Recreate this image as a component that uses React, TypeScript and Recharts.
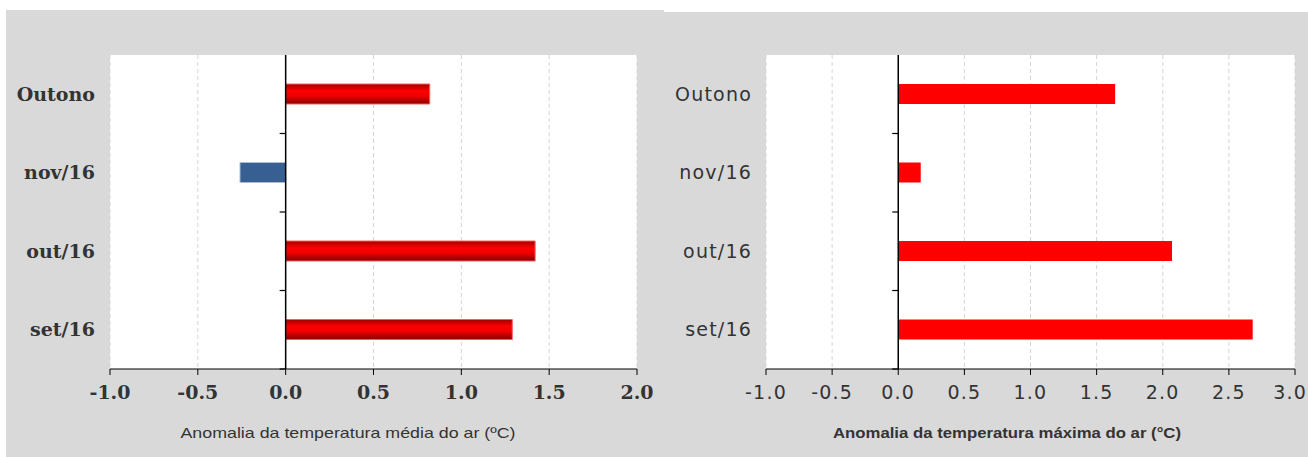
import React from 'react';
import {
  BarChart, Bar, XAxis, YAxis, CartesianGrid, ReferenceLine, Cell,
} from 'recharts';

// periods, top to bottom
const periods = ['Outono', 'nov/16', 'out/16', 'set/16'];
const mediaValues = [0.82, -0.26, 1.42, 1.29];
const maximaValues = [1.64, 0.17, 2.07, 2.68];
const mediaTicks = [-1, -0.5, 0, 0.5, 1, 1.5, 2];
const maximaTicks = [-1, -0.5, 0, 0.5, 1, 1.5, 2, 2.5, 3];
const mediaTitle = 'Anomalia da temperatura  média do ar (ºC)';
const maximaTitle = 'Anomalia da temperatura  máxima do ar (°C)';

const mediaData = periods.map((p, i) => ({ period: p, value: mediaValues[i] }));
const maximaData = periods.map((p, i) => ({ period: p, value: maximaValues[i] }));

const GRAY = '#d9d9d9';

// zero line with short ticks pointing left at the category boundaries
const ZeroLine = (n: number) => (p: any) => {
  const { x1, y1, y2 } = p;
  const step = (y2 - y1) / n;
  return (
    <g>
      <line x1={x1} y1={y1} x2={x1} y2={y2} stroke="#000" strokeWidth={1.5} />
      {Array.from({ length: n }, (_, i) => (
        <line key={i} x1={x1 - 6} x2={x1} y1={y1 + i * step} y2={y1 + i * step} stroke="#000" strokeWidth={1.2} />
      ))}
    </g>
  );
};

const titleLabel = (text: string, cx: number, len: number, weight: any) => (props: any) => {
  const vb = props.viewBox || {};
  return (
    <text
      x={cx}
      y={vb.y + 69}
      textAnchor="middle"
      fontFamily="'Liberation Sans Narrow', 'Liberation Sans', sans-serif"
      fontSize={15}
      fontWeight={weight}
      fill="#333"
      textLength={len}
      lengthAdjust="spacingAndGlyphs"
    >
      {text}
    </text>
  );
};

// right-axis tick; the last label is kept inside the panel
const MaximaTick = (props: any) => {
  const { x, y, payload } = props;
  const atEdge = x > 620;
  return (
    <text
      x={atEdge ? 643 : x}
      y={y}
      dy="0.71em"
      textAnchor={atEdge ? 'end' : 'middle'}
      fontFamily="DejaVu Sans"
      fontSize={19}
      letterSpacing={1.2}
      fill="#333"
    >
      {Number(payload.value).toFixed(1)}
    </text>
  );
};

function MediaChart() {
  return (
    <div style={{ width: 658, height: 447, background: GRAY }}>
      <BarChart
        width={658}
        height={447}
        data={mediaData}
        layout="vertical"
        margin={{ top: 45, right: 27, bottom: 0, left: 0 }}
        barSize={20}
      >
        <defs>
          <linearGradient id="redTube" x1="0" y1="0" x2="0" y2="1">
            <stop offset="0%" stopColor="#a00000" />
            <stop offset="35%" stopColor="#ff0000" />
            <stop offset="60%" stopColor="#f00000" />
            <stop offset="100%" stopColor="#800000" />
          </linearGradient>
        </defs>
        <CartesianGrid horizontal={false} stroke="#d4d4d4" strokeDasharray="4 3" fill="#fff" />
        <XAxis
          type="number"
          domain={[-1, 2]}
          ticks={mediaTicks}
          tickFormatter={(v) => v.toFixed(1)}
          axisLine={{ stroke: '#000' }}
          tickLine={{ stroke: '#000' }}
          tickSize={6}
          tickMargin={11}
          height={88}
          tick={{ fontFamily: 'DejaVu Serif', fontWeight: 'bold', fontSize: 19, fill: '#333' }}
          label={{ content: titleLabel(mediaTitle, 342, 335, 'normal') }}
        />
        <YAxis
          type="category"
          dataKey="period"
          width={104}
          axisLine={false}
          tickLine={false}
          tickMargin={9}
          tick={{ fontFamily: 'DejaVu Serif', fontWeight: 'bold', fontSize: 19, fill: '#333' }}
        />
        <Bar dataKey="value" isAnimationActive={false} stroke="#ff5a5a" strokeWidth={1}>
          {mediaData.map((d, i) => (
            <Cell
              key={i}
              fill={d.value < 0 ? '#375f92' : 'url(#redTube)'}
              stroke={d.value < 0 ? '#aebbd0' : '#ff5a5a'}
            />
          ))}
        </Bar>
        <ReferenceLine x={0} shape={ZeroLine(periods.length)} />
      </BarChart>
    </div>
  );
}

function MaximaChart() {
  return (
    <div style={{ width: 644, height: 445, background: GRAY, marginTop: 2 }}>
      <BarChart
        width={644}
        height={445}
        data={maximaData}
        layout="vertical"
        margin={{ top: 43, right: 13, bottom: 0, left: 0 }}
        barSize={20}
      >
        <CartesianGrid horizontal={false} stroke="#d4d4d4" strokeDasharray="4 3" fill="#fff" />
        <XAxis
          type="number"
          domain={[-1, 3]}
          ticks={maximaTicks}
          axisLine={{ stroke: '#000' }}
          tickLine={{ stroke: '#000' }}
          tickSize={6}
          tickMargin={11}
          height={88}
          tick={<MaximaTick />}
          label={{ content: titleLabel(maximaTitle, 343, 348, 'bold') }}
        />
        <YAxis
          type="category"
          dataKey="period"
          width={102}
          axisLine={false}
          tickLine={false}
          tickMargin={8}
          tick={{ fontFamily: 'DejaVu Sans', fontSize: 19, fill: '#333', letterSpacing: 1.2 }}
        />
        <Bar dataKey="value" fill="#ff0000" isAnimationActive={false} />
        <ReferenceLine x={0} shape={ZeroLine(periods.length)} />
      </BarChart>
    </div>
  );
}

export default function App() {
  return (
    <div style={{ position: 'absolute', left: 6, top: 10, display: 'flex', alignItems: 'flex-start' }}>
      <MediaChart />
      <MaximaChart />
    </div>
  );
}
